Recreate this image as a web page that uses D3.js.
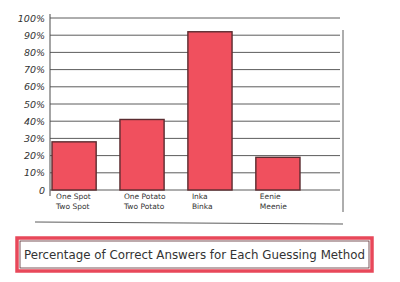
<!DOCTYPE html>
<html><head><meta charset="utf-8">
<script src="https://cdn.jsdelivr.net/npm/d3@7"></script>
<style>body{margin:0;background:#fff}svg{display:block}</style>
</head><body>
<svg id="c" width="400" height="282"></svg>
<script>
const categories = [["One Spot","Two Spot"],["One Potato","Two Potato"],["Inka","Binka"],["Eenie","Meenie"]];
const values = [28, 41, 92, 19];
const tickValues = [0,10,20,30,40,50,60,70,80,90,100];
const tickLabels = ["0","10%","20%","30%","40%","50%","60%","70%","80%","90%","100%"];
const title = "Percentage of Correct Answers for Each Guessing Method";

const svg = d3.select("#c");
const x = d3.scaleBand().domain(d3.range(categories.length)).range([52, 300]).paddingInner(0.35).paddingOuter(0);
const y = d3.scaleLinear().domain([0,100]).range([190, 18]);
const ink = "#4a4a4a";

// grid lines
svg.append("g").selectAll("line").data(tickValues).join("line")
  .attr("x1", 50).attr("x2", 340)
  .attr("y1", d => y(d)).attr("y2", d => y(d))
  .attr("stroke", ink).attr("stroke-width", 0.9);

// y axis line & frame
svg.append("line").attr("x1",50).attr("x2",50).attr("y1",14).attr("y2",196).attr("stroke",ink).attr("stroke-width",1);
svg.append("line").attr("x1",343).attr("x2",343).attr("y1",30).attr("y2",212).attr("stroke",ink).attr("stroke-width",0.9);
svg.append("line").attr("x1",35).attr("x2",343).attr("y1",222).attr("y2",224).attr("stroke",ink).attr("stroke-width",0.9);

// tick labels
const yAxis = d3.axisLeft(y).tickValues(tickValues).tickFormat((d,i)=>tickLabels[i]).tickSize(0).tickPadding(5);
const ga = svg.append("g").attr("transform","translate(50,0)").call(yAxis);
ga.select(".domain").remove();
ga.selectAll("text").attr("font-family","DejaVu Sans").attr("font-style","italic").attr("font-size",9.5).attr("fill","#333");

// bars
svg.append("g").selectAll("rect").data(values).join("rect")
  .attr("x",(d,i)=>x(i)).attr("width",x.bandwidth())
  .attr("y",d=>y(d)).attr("height",d=>y(0)-y(d))
  .attr("fill","#f0505e").attr("stroke","#5b2c30").attr("stroke-width",1.4);

// category labels
const cl = svg.append("g").selectAll("text").data(categories).join("text")
  .attr("x",(d,i)=>x(i)+4).attr("y",199)
  .attr("font-family","DejaVu Sans").attr("font-size",7.5).attr("fill","#333");
cl.selectAll("tspan").data(d=>d).join("tspan")
  .attr("x",function(){return this.parentNode.getAttribute("x");})
  .attr("dy",(d,i)=>i===0?0:10).text(d=>d);

// title box
svg.append("rect").attr("x",17).attr("y",238).attr("width",355).attr("height",33)
  .attr("fill","none").attr("stroke","#e8485a").attr("stroke-width",3.5);
svg.append("rect").attr("x",20).attr("y",241).attr("width",349).attr("height",27)
  .attr("fill","none").attr("stroke","#5b2c30").attr("stroke-width",0.8);
svg.append("text").attr("x",24).attr("y",259).attr("font-family","DejaVu Sans").attr("font-size",11.5)
  .attr("fill","#333").attr("textLength",341).attr("lengthAdjust","spacingAndGlyphs").text(title);
</script>
</body></html>
